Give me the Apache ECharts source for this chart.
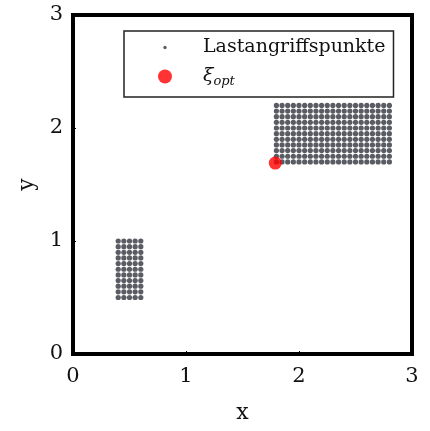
<!DOCTYPE html>
<html><head><meta charset="utf-8">
<script src="https://cdn.jsdelivr.net/npm/echarts@6/dist/echarts.min.js"></script>
<style>html,body{margin:0;padding:0;background:#fff}#c{width:430px;height:431px}</style>
</head><body><div id="c"></div>
<script>
// Load application points: two rectangular grids (x values × y values)
const grid1X = [0.4, 0.45, 0.5, 0.55, 0.6];
const grid1Y = [0.5, 0.55, 0.6, 0.65, 0.7, 0.75, 0.8, 0.85, 0.9, 0.95, 1.0];
const grid2X = [1.8, 1.85, 1.9, 1.95, 2.0, 2.05, 2.1, 2.15, 2.2, 2.25, 2.3, 2.35, 2.4, 2.45, 2.5, 2.55, 2.6, 2.65, 2.7, 2.75, 2.8];
const grid2Y = [1.7, 1.75, 1.8, 1.85, 1.9, 1.95, 2.0, 2.05, 2.1, 2.15, 2.2];
const xiOpt = [1.79, 1.69];
const xTicks = [0, 1, 2, 3];
const yTicks = [0, 1, 2, 3];

const pts = [];
for (const x of grid1X) for (const y of grid1Y) pts.push([x, y]);
for (const x of grid2X) for (const y of grid2Y) pts.push([x, y]);

const FONT = '"DejaVu Serif", "Liberation Serif", serif';
const chart = echarts.init(document.getElementById('c'), null, {renderer: 'canvas'});
chart.setOption({
  animation: false,
  grid: {left: 73, top: 15, width: 339, height: 339, show: true, borderColor: '#000', borderWidth: 4, backgroundColor: '#fff'},
  xAxis: {
    type: 'value', min: xTicks[0], max: xTicks[xTicks.length - 1], interval: 1,
    name: 'x', nameLocation: 'middle', nameGap: 48,
    nameTextStyle: {fontFamily: FONT, fontSize: 22, color: '#111'},
    axisLine: {show: true, onZero: false, lineStyle: {color: '#000', width: 4}},
    axisTick: {show: true, inside: true, length: 3, lineStyle: {color: '#000', width: 1}},
    axisLabel: {fontFamily: FONT, fontSize: 21, color: '#111', margin: 12},
    splitLine: {show: false}
  },
  yAxis: {
    type: 'value', min: yTicks[0], max: yTicks[yTicks.length - 1], interval: 1,
    name: 'y', nameLocation: 'middle', nameGap: 33, nameRotate: 90,
    nameTextStyle: {fontFamily: FONT, fontSize: 22, color: '#111'},
    axisLine: {show: true, onZero: false, lineStyle: {color: '#000', width: 4}},
    axisTick: {show: true, inside: true, length: 3, lineStyle: {color: '#000', width: 1}},
    axisLabel: {fontFamily: FONT, fontSize: 21, color: '#111', margin: 10},
    splitLine: {show: false}
  },
  legend: {
    orient: 'vertical', left: 124, top: 31,
    backgroundColor: '#fff', borderColor: '#222', borderWidth: 1.5, borderRadius: 0,
    padding: [7, 8, 9, 34], itemGap: 10, itemWidth: 14, itemHeight: 14,
    textStyle: {fontFamily: FONT, fontSize: 19, color: '#111', padding: [0, 0, 0, 26],
      rich: {
        xi: {fontFamily: FONT, fontSize: 19, fontStyle: 'italic', color: '#111'},
        sub: {fontFamily: FONT, fontSize: 13, fontStyle: 'italic', color: '#111', padding: [10, 0, 0, 0]}
      }
    },
    data: [
      {name: 'Lastangriffspunkte', icon: 'path://M0,0M20,20M10,7.6A2.4,2.4 0 1,1 10,12.4A2.4,2.4 0 1,1 10,7.6Z'},
      {name: 'xi', icon: 'circle'}
    ],
    formatter: function (n) { return n === 'xi' ? '{xi|ξ}{sub|opt}' : n; }
  },
  series: [
    {name: 'Lastangriffspunkte', type: 'scatter', data: pts, symbol: 'circle', symbolSize: 5.2,
     itemStyle: {color: '#2f353c'}},
    {name: 'xi', type: 'scatter', data: [xiOpt], symbol: 'circle', symbolSize: 13,
     itemStyle: {color: '#ff0000'}, z: 5}
  ]
});
</script></body></html>
